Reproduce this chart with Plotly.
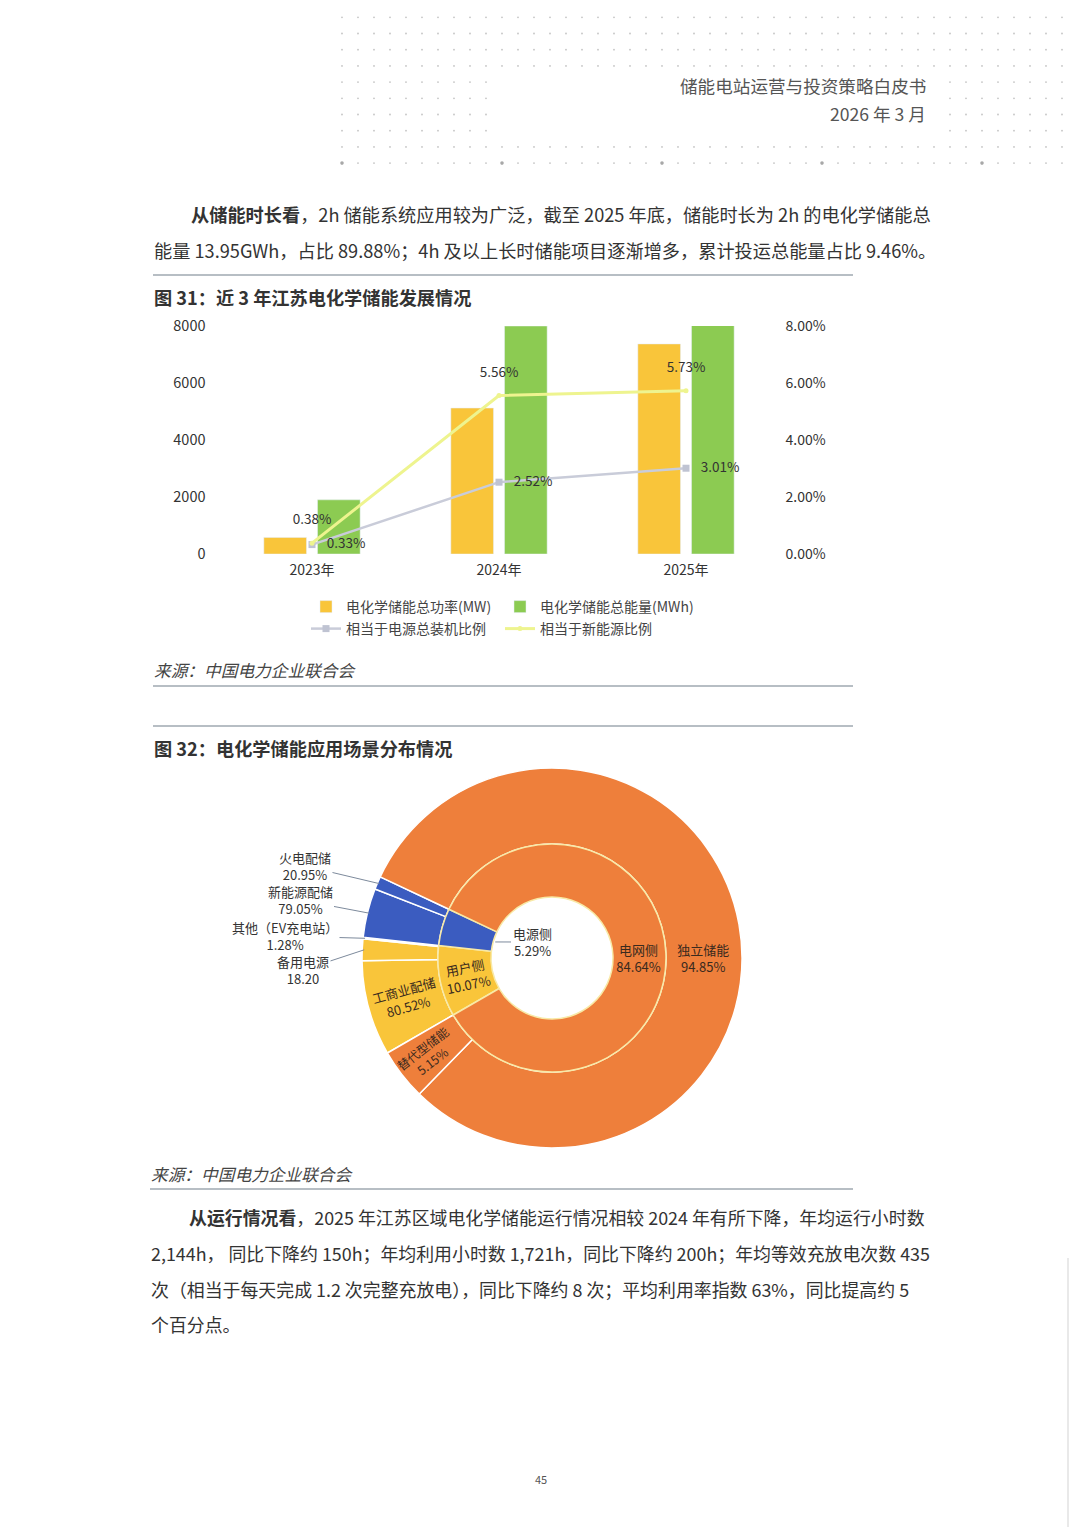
import plotly.graph_objects as go
import math

W, H = 1080, 1527
FONT = "Noto Sans CJK SC"

def px(x):
    return x / W

def py(y):
    return 1 - y / H

# ---------------- Figure 31 data ----------------
years = ["2023年", "2024年", "2025年"]
power_mw = [580, 5120, 7370]          # 电化学储能总功率(MW)
energy_mwh = [1900, 8000, 15520]      # 电化学储能总能量(MWh) (upper bars clipped at 8000)
share_total = [0.33, 2.52, 3.01]      # 相当于电源总装机比例 (%)
share_new = [0.38, 5.56, 5.73]        # 相当于新能源比例 (%)

bar_names = ["电化学储能总功率(MW)", "电化学储能总能量(MWh)"]
line_names = ["相当于电源总装机比例", "相当于新能源比例"]

# ---------------- Figure 32 data ----------------
inner_labels = ["用户侧", "电源侧", "电网侧"]
inner_pct = [10.07, 5.29, 84.64]
outer_labels = ["工商业配储", "备用电源", "其他（EV充电站）", "新能源配储", "火电配储", "独立储能", "替代型储能"]
outer_parent = [0, 0, 0, 1, 1, 2, 2]
outer_pct = [80.52, 18.20, 1.28, 79.05, 20.95, 94.85, 5.15]
outer_suffix = ["%", "", "%", "%", "%", "%", "%"]

C_YEL = "#F9C53A"
C_GRN = "#8CCB52"
C_GREY = "#C9CCD9"
C_LIME = "#EEF48F"
C_ORANGE = "#EE7F3B"
C_BLUE = "#3B5CC0"

fig = go.Figure()

# bars
fig.add_trace(go.Bar(x=years, y=power_mw, name=bar_names[0], marker_color=C_YEL,
                     legend="legend", xaxis="x", yaxis="y"))
fig.add_trace(go.Bar(x=years, y=energy_mwh, name=bar_names[1], marker_color=C_GRN,
                     legend="legend", xaxis="x", yaxis="y"))
# lines
fig.add_trace(go.Scatter(x=years, y=share_total, name=line_names[0], mode="lines+markers",
                         line=dict(color=C_GREY, width=2.5),
                         marker=dict(symbol="square", size=7, color="#BFC3D2"),
                         legend="legend2", xaxis="x", yaxis="y2", cliponaxis=False))
fig.add_trace(go.Scatter(x=years, y=share_new, name=line_names[1], mode="lines+markers",
                         line=dict(color=C_LIME, width=3),
                         marker=dict(symbol="circle", size=5, color=C_LIME),
                         legend="legend2", xaxis="x", yaxis="y2", cliponaxis=False))
# data labels of the two lines (invisible markers give the label offset)
fig.add_trace(go.Scatter(x=years, y=share_total, mode="markers+text", showlegend=False,
                         marker=dict(size=22, opacity=0), hoverinfo="skip",
                         text=[f"{v:.2f}%" for v in share_total], textposition="middle right",
                         textfont=dict(size=13.5, color="#333", family=FONT),
                         xaxis="x", yaxis="y2", cliponaxis=False))
fig.add_trace(go.Scatter(x=years, y=share_new, mode="markers+text", showlegend=False,
                         marker=dict(size=23, opacity=0), hoverinfo="skip",
                         text=[f"{v:.2f}%" for v in share_new], textposition="top center",
                         textfont=dict(size=13.5, color="#333", family=FONT),
                         xaxis="x", yaxis="y2", cliponaxis=False))

# ---------------- donut (two pies) ----------------
CX, CY = 552, 958
R_OUT, R_MID, R_HOLE = 190, 114, 61
ROT = -120  # clockwise-from-12 start angle

inner_colors = [C_YEL, C_BLUE, C_ORANGE]
outer_values = [inner_pct[p] * v / 100 for p, v in zip(outer_parent, outer_pct)]
outer_colors = [inner_colors[p] for p in outer_parent]

outer_text = [f"{l}<br>{v:.2f}{s}" for l, v, s in zip(outer_labels, outer_pct, outer_suffix)]
outer_pos = ["inside", "none", "none", "none", "none", "inside", "inside"]
inner_text = [f"{l}<br>{v:.2f}%" for l, v in zip(inner_labels, inner_pct)]
inner_pos = ["inside", "none", "inside"]

fig.add_trace(go.Pie(labels=outer_labels, values=outer_values, sort=False, direction="clockwise",
                     rotation=ROT, hole=R_MID / R_OUT,
                     domain=dict(x=[px(CX - R_OUT), px(CX + R_OUT)], y=[py(CY + R_OUT), py(CY - R_OUT)]),
                     marker=dict(colors=outer_colors, line=dict(color="white", width=1.5)),
                     text=outer_text, textinfo="text", textposition=outer_pos,
                     insidetextorientation="radial",
                     textfont=dict(size=13, color="#3A2A1E", family=FONT),
                     showlegend=False, hoverinfo="label+percent"))
fig.add_trace(go.Pie(labels=inner_labels, values=inner_pct, sort=False, direction="clockwise",
                     rotation=ROT, hole=R_HOLE / R_MID,
                     domain=dict(x=[px(CX - R_MID), px(CX + R_MID)], y=[py(CY + R_MID), py(CY - R_MID)]),
                     marker=dict(colors=inner_colors, line=dict(color="#F8E9A6", width=1.5)),
                     text=inner_text, textinfo="text", textposition=inner_pos,
                     insidetextorientation="radial",
                     textfont=dict(size=13, color="#3A2A1E", family=FONT),
                     showlegend=False, hoverinfo="label+percent"))

def mid_angles(values):
    tot = sum(values)
    out, cum = [], 0
    for v in values:
        out.append(ROT + (cum + v / 2) / tot * 360)
        cum += v
    return out

def polar(r, ang):
    a = math.radians(ang)
    return CX + r * math.sin(a), CY - r * math.cos(a)

annotations = []

# leader-line labels (text positions are layout choices, tips from data)
outer_mid = mid_angles(outer_values)
outer_label_pos = {1: (303, 970), 2: (285, 936), 3: (300, 900), 4: (305, 866)}
for i, (lx, ly) in outer_label_pos.items():
    tx, ty = polar(R_OUT - 2, outer_mid[i])
    annotations.append(dict(x=px(tx), y=py(ty), xref="paper", yref="paper",
                            text=outer_text[i], showarrow=True, arrowhead=0, arrowwidth=1,
                            arrowcolor="#7D8A9C", ax=lx - tx, ay=ly - ty, standoff=0,
                            font=dict(size=13, color="#333", family=FONT), align="center"))
inner_mid = mid_angles(inner_pct)
tx, ty = polar(R_HOLE - 2, inner_mid[1])
annotations.append(dict(x=px(tx), y=py(ty), xref="paper", yref="paper",
                        text=inner_text[1], showarrow=True, arrowhead=0, arrowwidth=1,
                        arrowcolor="#7D8A9C", ax=532 - tx, ay=942 - ty, standoff=0,
                        font=dict(size=13, color="#333", family=FONT), align="center"))

# ---------------- page text ----------------
def txt(x, y, s, size=18.2, color="#333", anchor="left", style="normal"):
    annotations.append(dict(x=px(x), y=py(y), xref="paper", yref="paper", text=s, showarrow=False,
                            xanchor=anchor, yanchor="middle", borderpad=0,
                            font=dict(size=size, color=color, family=FONT, style=style)))

txt(927, 86, "储能电站运营与投资策略白皮书", 17.6, "#555", "right")
txt(927, 114, "2026 年 3 月", 17.6, "#555", "right")

txt(190, 214, "<b>从储能时长看</b>，2h 储能系统应用较为广泛，截至 2025 年底，储能时长为 2h 的电化学储能总")
txt(153, 250, "能量 13.95GWh，占比 89.88%；4h 及以上长时储能项目逐渐增多，累计投运总能量占比 9.46%。")
txt(153, 297, "<b>图 31：近 3 年江苏电化学储能发展情况</b>", 18.2)
txt(153, 670, "来源：中国电力企业联合会", 16.7, "#444", style="italic")
txt(153, 748, "<b>图 32：电化学储能应用场景分布情况</b>", 18.2)
txt(150, 1174, "来源：中国电力企业联合会", 16.7, "#444", style="italic")
txt(188, 1217, "<b>从运行情况看</b>，2025 年江苏区域电化学储能运行情况相较 2024 年有所下降，年均运行小时数", 17.9)
txt(150, 1253, "2,144h， 同比下降约 150h；年均利用小时数 1,721h，同比下降约 200h；年均等效充放电次数 435", 17.9)
txt(150, 1289, "次（相当于每天完成 1.2 次完整充放电），同比下降约 8 次；平均利用率指数 63%，同比提高约 5", 17.9)
txt(150, 1324, "个百分点。", 17.9)
txt(541, 1479, "45", 11, "#555", "center")

# ---------------- shapes ----------------
shapes = []
def hline(x0, x1, y, color="#9FA9B1", width=1.5):
    shapes.append(dict(type="line", xref="paper", yref="paper", x0=px(x0), x1=px(x1),
                       y0=py(y), y1=py(y), line=dict(color=color, width=width)))

hline(153, 853, 275)
hline(153, 853, 686)
hline(153, 853, 726)
hline(150, 853, 1189)
shapes.append(dict(type="line", xref="paper", yref="paper", x0=px(1068), x1=px(1068),
                   y0=py(1258), y1=py(1527), line=dict(color="#E2E2E2", width=1.5)))

# decorative dot grid in header
for j in range(10):
    for k in range(46):
        x = 342 + 16 * k
        y = 17.3 + 16.2 * j
        if 4 <= j <= 7 and 495 < x < 945:
            continue
        big = (j == 9 and k % 10 == 0)
        r = 1.8 if big else 0.9
        col = "#A8A8A8" if big else "#C4C4C4"
        shapes.append(dict(type="circle", xref="paper", yref="paper",
                           x0=px(x - r), x1=px(x + r), y0=py(y + r), y1=py(y - r),
                           fillcolor=col, line=dict(width=0)))

fig.update_layout(
    width=W, height=H, autosize=False,
    margin=dict(l=0, r=0, t=0, b=0, pad=0, autoexpand=False),
    paper_bgcolor="white", plot_bgcolor="white",
    font=dict(family=FONT, color="#333"),
    barmode="group", bargap=0.426, bargroupgap=0.206,
    xaxis=dict(domain=[px(218.5), px(779.5)], anchor="y", type="category", automargin=False,
               showline=False, showgrid=False, zeroline=False, ticks="",
               tickfont=dict(size=14, color="#333"), ticklabelstandoff=6),
    yaxis=dict(domain=[py(554), py(326)], range=[0, 8000], dtick=2000, anchor="x", automargin=False,
               showgrid=False, zeroline=False, showline=False, ticks="",
               tickfont=dict(size=14.5, color="#333"), ticklabelstandoff=12),
    yaxis2=dict(overlaying="y", side="right", anchor="x", range=[0, 8], dtick=2, automargin=False,
                tickformat=".2f", ticksuffix="%", showgrid=False, zeroline=False,
                showline=False, ticks="", tickfont=dict(size=14, color="#333"),
                ticklabelstandoff=5),
    legend=dict(orientation="h", x=px(306), y=py(591), xanchor="left", yanchor="top",
                font=dict(size=14, color="#444"), entrywidth=149, entrywidthmode="pixels",
                bgcolor="rgba(0,0,0,0)", itemwidth=30),
    legend2=dict(orientation="h", x=px(306), y=py(613), xanchor="left", yanchor="top",
                 font=dict(size=14, color="#444"), entrywidth=149, entrywidthmode="pixels",
                 bgcolor="rgba(0,0,0,0)", itemwidth=30),
    annotations=annotations,
    shapes=shapes,
)

fig.write_html("out.html", config={"displayModeBar": False},
               post_script="document.body.style.margin='0px';document.body.style.padding='0px';")
